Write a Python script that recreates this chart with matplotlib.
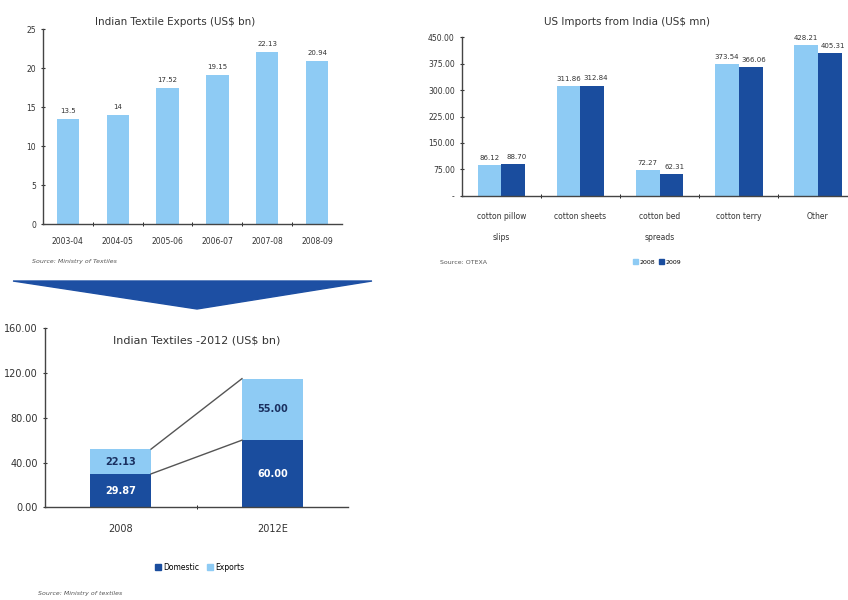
import matplotlib
matplotlib.use("Agg")
import matplotlib.pyplot as plt
from matplotlib.patches import Polygon, Patch
import numpy as np

W, H = 848, 600

# chart 1: Indian textile exports
years = ["2003-04", "2004-05", "2005-06", "2006-07", "2007-08", "2008-09"]
exports = [13.5, 14.0, 17.52, 19.15, 22.13, 20.94]
export_labels = ["13.5", "14", "17.52", "19.15", "22.13", "20.94"]

# chart 2: US imports from India
products = ["cotton pillow\nslips", "cotton sheets", "cotton bed\nspreads", "cotton terry", "Other"]
imp_2008 = [86.12, 311.86, 72.27, 373.54, 428.21]
imp_2009 = [88.70, 312.84, 62.31, 366.06, 405.31]
imp_ticks = [0, 75, 150, 225, 300, 375, 450]
imp_ticklabels = ["-", "75.00", "150.00", "225.00", "300.00", "375.00", "450.00"]

# chart 3: Indian textiles 2012
periods = ["2008", "2012E"]
domestic = [29.87, 60.00]
exp_part = [22.13, 55.00]

LIGHT = "#8ecbf4"
DARK = "#1a4d9e"
TXT = "#333333"

plt.rcParams["font.family"] = "DejaVu Sans"


def px_axes(fig, x0, x1, y_top, y_bot):
    return fig.add_axes([x0 / W, 1 - y_bot / H, (x1 - x0) / W, (y_bot - y_top) / H])


def style(ax):
    for s in ["top", "right"]:
        ax.spines[s].set_visible(False)
    for s in ["left", "bottom"]:
        ax.spines[s].set_color("#444444")
        ax.spines[s].set_linewidth(1.0)


fig = plt.figure(figsize=(W / 100, H / 100), dpi=100)

# ---- chart 1
ax1 = px_axes(fig, 43, 342, 29.3, 224)
style(ax1)
x = np.arange(len(years))
ax1.bar(x, exports, width=0.45, color=LIGHT)
for xi, v, lab in zip(x, exports, export_labels):
    ax1.text(xi, v + 0.6, lab, ha="center", va="bottom", fontsize=5, color=TXT)
ax1.set_xlim(-0.5, len(years) - 0.5)
ax1.set_ylim(0, 25)
ax1.set_yticks([0, 5, 10, 15, 20, 25])
ax1.set_xticks(x)
ax1.set_xticklabels(years)
ax1.set_xticks(np.arange(0.5, len(years) - 0.5), minor=True)
ax1.tick_params(axis="x", which="major", length=0, labelsize=5.5, pad=9, colors=TXT)
ax1.tick_params(axis="x", which="minor", length=3, direction="inout")
ax1.tick_params(axis="y", length=3, direction="inout", labelsize=5.5, colors=TXT)
fig.text(175 / W, 1 - 22 / H, "Indian Textile Exports (US$ bn)", ha="center", va="center",
         fontsize=7.5, color=TXT)
fig.text(32 / W, 1 - 262 / H, "Source: Ministry of Textiles", ha="left", va="center",
         fontsize=4.5, style="italic", color="#555555")

# ---- chart 2
ax2 = px_axes(fig, 461.7, 857.5, 37.3, 195.7)
style(ax2)
x2 = np.arange(len(products))
bw = 0.3
ax2.bar(x2 - bw / 2, imp_2008, width=bw, color=LIGHT, label="2008")
ax2.bar(x2 + bw / 2, imp_2009, width=bw, color=DARK, label="2009")
for xi, a, b in zip(x2, imp_2008, imp_2009):
    ax2.text(xi - bw / 2, a + 12, f"{a:.2f}", ha="center", va="bottom", fontsize=5, color=TXT)
    ax2.text(xi + bw / 2 + 0.04, b + 12, f"{b:.2f}", ha="center", va="bottom", fontsize=5, color=TXT)
ax2.set_xlim(-0.5, len(products) - 0.5)
ax2.set_ylim(0, 450)
ax2.set_yticks(imp_ticks)
ax2.set_yticklabels(imp_ticklabels)
ax2.set_xticks(x2)
ax2.set_xticklabels(products, linespacing=2.6, va="top")
ax2.set_xticks(np.arange(0.5, len(products) - 0.5), minor=True)
ax2.tick_params(axis="x", which="major", length=0, labelsize=5.5, pad=12, colors=TXT)
ax2.tick_params(axis="x", which="minor", length=3, direction="inout")
ax2.tick_params(axis="y", length=3, direction="inout", labelsize=5.5, colors=TXT)
fig.text(627 / W, 1 - 22 / H, "US Imports from India (US$ mn)", ha="center", va="center",
         fontsize=7.5, color=TXT)
fig.text(440 / W, 1 - 262 / H, "Source: OTEXA", ha="left", va="center",
         fontsize=4.5, color="#555555")
fig.legend(handles=[Patch(color=LIGHT, label="2008"), Patch(color=DARK, label="2009")],
           loc="center", bbox_to_anchor=(657 / W, 1 - 262 / H), ncol=2, frameon=False,
           fontsize=4.5, handlelength=0.8, handleheight=0.8, handletextpad=0.3,
           columnspacing=0.6)

# ---- arrow band
arrow = Polygon([(13 / W, 1 - 281 / H), (372 / W, 1 - 281 / H), (197 / W, 1 - 309 / H)],
                closed=True, transform=fig.transFigure, color="#1d4fa3")
fig.patches.append(arrow)

# ---- chart 3
ax3 = px_axes(fig, 45, 348, 328.3, 507.3)
style(ax3)
x3 = np.arange(len(periods))
bw3 = 0.4
ax3.bar(x3, domestic, width=bw3, color=DARK, label="Domestic")
ax3.bar(x3, exp_part, width=bw3, bottom=domestic, color=LIGHT, label="Exports")
for xi, d, e in zip(x3, domestic, exp_part):
    ax3.text(xi, d / 2, f"{d:.2f}", ha="center", va="center", fontsize=7,
             color="white", fontweight="bold")
    ax3.text(xi, d + e / 2, f"{e:.2f}", ha="center", va="center", fontsize=7,
             color="#1a3060", fontweight="bold")
tot = [d + e for d, e in zip(domestic, exp_part)]
ax3.plot([bw3 / 2, 1 - bw3 / 2], [tot[0], tot[1]], color="#555555", lw=1)
ax3.plot([bw3 / 2, 1 - bw3 / 2], [domestic[0], domestic[1]], color="#555555", lw=1)
ax3.set_xlim(-0.5, 1.5)
ax3.set_ylim(0, 160)
ax3.set_yticks([0, 40, 80, 120, 160])
ax3.set_yticklabels(["0.00", "40.00", "80.00", "120.00", "160.00"])
ax3.set_xticks(x3)
ax3.set_xticklabels(periods)
ax3.set_xticks([0.5], minor=True)
ax3.tick_params(axis="x", which="major", length=0, labelsize=7, pad=12, colors=TXT)
ax3.tick_params(axis="x", which="minor", length=3, direction="inout")
ax3.tick_params(axis="y", length=3, direction="inout", labelsize=7, colors=TXT)
ax3.text(0.5, 0.93, "Indian Textiles -2012 (US$ bn)", transform=ax3.transAxes,
         ha="center", va="center", fontsize=8, color=TXT)
fig.legend(handles=[Patch(color=DARK, label="Domestic"), Patch(color=LIGHT, label="Exports")],
           loc="center", bbox_to_anchor=(200 / W, 1 - 567 / H), ncol=2, frameon=False,
           fontsize=5.5, handlelength=0.8, handleheight=0.8, handletextpad=0.3,
           columnspacing=1.0)
fig.text(38 / W, 1 - 593 / H, "Source: Ministry of textiles", ha="left", va="center",
         fontsize=4.5, style="italic", color="#555555")

fig.savefig("out.png", dpi=100, facecolor="white")
